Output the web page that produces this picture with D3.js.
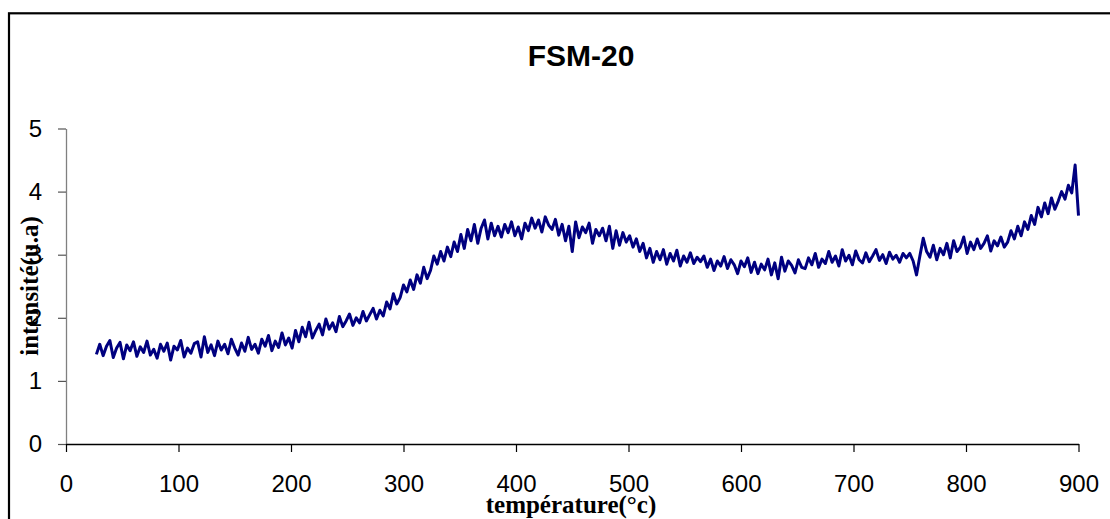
<!DOCTYPE html>
<meta charset="utf-8">
<title>FSM-20</title>
<style type="text/css">
body {
  margin: 0;
  background: #fff;
}
.tick text {
  font-family: "Liberation Sans", Arial, sans-serif;
  font-size: 24px;
  fill: #000;
}
.axisTitle {
  font-family: "Liberation Serif", "Times New Roman", serif;
  font-weight: bold;
  font-size: 25px;
}
</style>
<script type="text/javascript" src="https://cdn.jsdelivr.net/npm/d3@7/dist/d3.min.js"></script>
<body>
<script>
var width = 1110;
var height = 519;

// sampling grid of the thermogram
var tStart = 27;
var tStep = 3;

var xTicks = [0, 100, 200, 300, 400, 500, 600, 700, 800, 900];
var yTicks = [0, 1, 2, 3, 4, 5];

// intensité (u.a), one array per 90 °C
var seg027 = [1.42,1.58,1.40,1.55,1.64,1.37,1.52,1.61,1.35,1.57,1.48,1.62,1.39,1.54,1.45,1.63,1.41,1.50,1.36,1.58,1.47,1.60,1.33,1.55,1.49,1.64,1.38,1.52,1.44,1.59];
var seg117 = [1.62,1.38,1.70,1.45,1.57,1.40,1.63,1.49,1.58,1.43,1.66,1.52,1.41,1.60,1.47,1.69,1.50,1.58,1.44,1.66,1.55,1.72,1.48,1.63,1.53,1.76,1.57,1.68,1.52,1.80];
var seg207 = [1.62,1.85,1.70,1.93,1.68,1.80,1.90,1.73,1.98,1.82,1.92,1.78,2.02,1.86,1.95,2.06,1.88,2.00,1.92,2.10,1.95,2.05,2.15,1.98,2.12,2.03,2.25,2.14,2.38,2.22];
var seg297 = [2.32,2.52,2.41,2.60,2.45,2.68,2.55,2.80,2.62,2.75,2.98,2.85,3.05,2.90,3.12,2.97,3.20,3.05,3.32,3.10,3.40,3.22,3.48,3.18,3.42,3.55,3.25,3.50,3.30,3.45];
var seg387 = [3.28,3.48,3.35,3.52,3.30,3.44,3.25,3.50,3.38,3.58,3.42,3.55,3.36,3.60,3.47,3.40,3.56,3.31,3.48,3.22,3.45,3.05,3.52,3.27,3.44,3.35,3.50,3.18,3.40,3.30];
var seg477 = [3.42,3.22,3.45,3.10,3.38,3.15,3.35,3.20,3.30,3.12,3.25,3.05,3.18,2.95,3.10,2.88,3.05,2.92,3.08,2.85,3.02,2.90,3.07,2.82,2.98,2.88,3.03,2.86,2.96,2.89];
var seg567 = [2.98,2.80,2.93,2.75,2.90,2.82,2.97,2.78,2.92,2.84,2.70,2.90,2.81,2.95,2.72,2.88,2.70,2.85,2.76,2.93,2.68,2.87,2.62,2.96,2.74,2.90,2.83,2.71,2.92,2.80];
var seg657 = [2.78,2.95,2.84,3.02,2.80,2.93,2.86,3.05,2.88,2.98,2.82,3.08,2.90,2.99,2.84,3.06,2.92,2.87,3.03,2.89,2.98,3.08,2.91,3.00,2.86,3.04,2.93,2.99,2.88,3.02];
var seg747 = [2.95,3.02,2.90,2.68,2.98,3.26,3.05,2.96,3.15,2.92,3.10,3.00,3.18,2.95,3.22,3.05,3.12,3.28,3.02,3.20,3.08,3.25,3.10,3.18,3.30,3.06,3.22,3.14,3.28,3.12];
var seg837 = [3.20,3.38,3.25,3.45,3.30,3.52,3.40,3.62,3.48,3.75,3.60,3.82,3.65,3.90,3.72,3.85,4.00,3.88,4.10,3.98,4.42,3.62];

var intensity = [].concat(seg027, seg117, seg207, seg297, seg387, seg477, seg567, seg657, seg747, seg837);
var points = intensity.map(function(v, i) {
  return {t: tStart + i * tStep, v: v};
});

var svg = d3.select('body').append('svg')
  .attr('width', width)
  .attr('height', height)
  .style('display', 'block');

svg.append('rect')
  .attr('width', width).attr('height', height)
  .attr('fill', '#fff');

// frame of the chart (right and bottom edges fall outside the picture)
svg.append('rect')
  .attr('x', 9).attr('y', 13.3)
  .attr('width', width + 20).attr('height', height + 20)
  .attr('fill', 'none')
  .attr('stroke', '#000')
  .attr('stroke-width', 2.2);

var xScale = d3.scaleLinear().domain([0, 900]).range([66, 1078.5]);
var yScale = d3.scaleLinear().domain([0, 5]).range([444, 128.5]);

var yAxis = svg.append('g')
  .attr('transform', 'translate(66,0)')
  .call(d3.axisLeft(yScale).tickValues(yTicks).tickFormat(d3.format('d'))
    .tickSize(8).tickSizeOuter(0).tickPadding(16));
yAxis.select('.domain').attr('stroke', '#808080').attr('stroke-width', 1.3);
yAxis.selectAll('.tick line').attr('stroke', '#555').attr('stroke-width', 1.2);

var xAxis = svg.append('g')
  .attr('transform', 'translate(0,444)')
  .call(d3.axisBottom(xScale).tickValues(xTicks).tickFormat(d3.format('d'))
    .tickSize(8).tickSizeOuter(0));
xAxis.select('.domain').attr('stroke', '#000').attr('stroke-width', 1.3);
xAxis.selectAll('.tick line').attr('stroke', '#000').attr('stroke-width', 1.2);
xAxis.selectAll('.tick text').attr('y', 48).attr('dy', 0);

var line = d3.line()
  .x(function(d) { return xScale(d.t); })
  .y(function(d) { return yScale(d.v); });

svg.append('path')
  .datum(points)
  .attr('d', line)
  .attr('fill', 'none')
  .attr('stroke', '#000080')
  .attr('stroke-width', 3)
  .attr('stroke-linejoin', 'round');

svg.append('text')
  .attr('x', 581)
  .attr('y', 66)
  .attr('text-anchor', 'middle')
  .style('font-family', '"Liberation Sans", Arial, sans-serif')
  .style('font-weight', 'bold')
  .style('font-size', '30px')
  .text('FSM-20');

svg.append('text')
  .attr('class', 'axisTitle')
  .attr('x', 571)
  .attr('y', 513)
  .attr('text-anchor', 'middle')
  .text('température(°c)');

svg.append('text')
  .attr('class', 'axisTitle')
  .attr('transform', 'translate(38,286) rotate(-90)')
  .attr('text-anchor', 'middle')
  .text('intensité(u.a)');
</script>
</body>
</html>
